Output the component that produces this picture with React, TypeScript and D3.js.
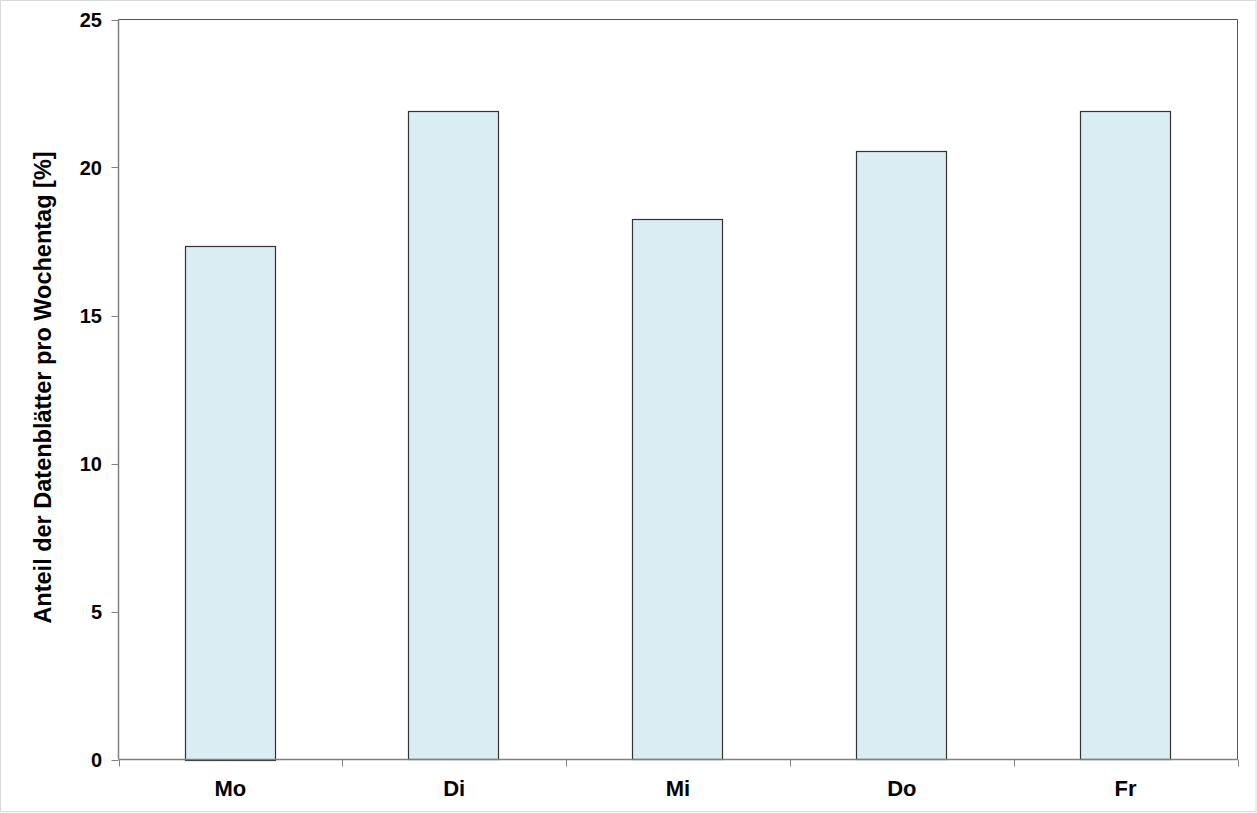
import React from "react";
import * as d3 from "d3";

const categories = ["Mo", "Di", "Mi", "Do", "Fr"];
const values = [17.35, 21.9, 18.25, 20.55, 21.9];
const yTicks = [0, 5, 10, 15, 20, 25];
const yTitle = "Anteil der Datenblätter pro Wochentag [%]";

export default function App() {
  const W = 1257, H = 813;
  const left = 118.5, right = 1237.5, top = 19.5, bottom = 759.5;
  const x = d3.scaleBand<string>().domain(categories).range([left, right]).paddingInner(0.6).paddingOuter(0.3);
  const xb = d3.scaleBand<string>().domain(categories).range([left, right]);
  const y = d3.scaleLinear().domain([0, 25]).range([bottom, top]);
  const font = "'Liberation Sans', Arial, sans-serif";
  return (
    <svg width={W} height={H} style={{ position: "absolute", left: 0, top: 0, background: "#fff" }}>
      <rect x={0.5} y={0.5} width={W - 1.5} height={H - 2} fill="#fff" stroke="#d9d9d9" />
      {/* plot frame */}
      <line x1={left} x2={right} y1={top} y2={top} stroke="#555" />
      <line x1={right} x2={right} y1={top} y2={bottom} stroke="#555" />
      {categories.map((c, i) => (
        <rect key={c} x={Math.round(x(c)!) - 0.5} y={Math.round(y(values[i])) + 0.5}
          width={Math.round(x.bandwidth())} height={Math.round(bottom - y(values[i]))}
          fill="#daedf3" stroke="#333" strokeWidth={1.2} />
      ))}
      {/* y axis */}
      <line x1={left} x2={left} y1={top} y2={bottom} stroke="#808080" strokeWidth={1.5} />
      {yTicks.map(t => (
        <g key={t}>
          <line x1={left - 7} x2={left} y1={Math.round(y(t)) + 0.5} y2={Math.round(y(t)) + 0.5} stroke="#808080" />
          <text x={102} y={y(t)} dy="0.35em" textAnchor="end" fontFamily={font} fontWeight="bold" fontSize={20} fill="#000">{t}</text>
        </g>
      ))}
      {/* x axis */}
      <line x1={left} x2={right} y1={bottom} y2={bottom} stroke="#808080" strokeWidth={1.5} />
      {[...categories.map(c => xb(c)!), right].map((p, i) => (
        <line key={i} x1={Math.round(p) + 0.5} x2={Math.round(p) + 0.5} y1={bottom} y2={bottom + 7} stroke="#808080" />
      ))}
      {categories.map(c => (
        <text key={c} x={xb(c)! + xb.bandwidth() / 2} y={788} dy="0.35em" textAnchor="middle" fontFamily={font} fontWeight="bold" fontSize={22} fill="#000">{c}</text>
      ))}
      <text transform={`translate(43, ${(top + bottom) / 2 - 2}) rotate(-90)`} dy="0.35em" textAnchor="middle" fontFamily={font} fontWeight="bold" fontSize={23.5} fill="#000">{yTitle}</text>
    </svg>
  );
}
